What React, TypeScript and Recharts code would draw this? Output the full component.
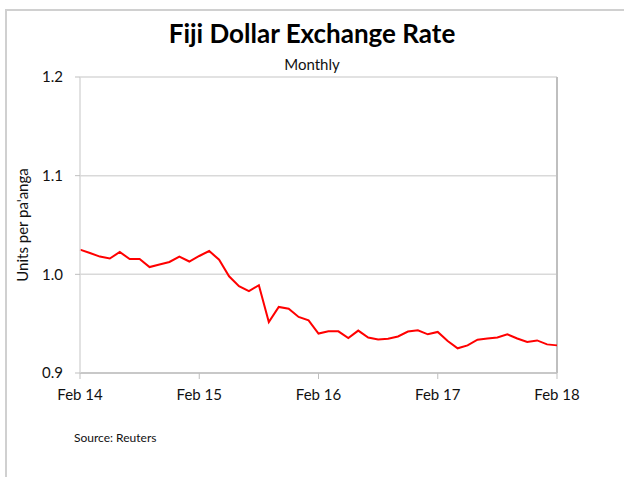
import { LineChart, Line, XAxis, YAxis, CartesianGrid, ReferenceLine } from "recharts";

// monthly, Feb 2014 .. Feb 2018
const rates = [
  1.025, 1.0216, 1.018, 1.016, 1.0226, 1.0155, 1.0155, 1.0074, 1.01, 1.0125,
  1.018, 1.013, 1.0186, 1.0236, 1.0149, 0.998, 0.988, 0.983, 0.989, 0.9517,
  0.967, 0.9652, 0.9568, 0.9534, 0.94, 0.9422, 0.9422, 0.9355, 0.943, 0.936,
  0.934, 0.9348, 0.937, 0.942, 0.9433, 0.9392, 0.9416, 0.9325, 0.925, 0.928,
  0.9338, 0.935, 0.936, 0.9392, 0.935, 0.9314, 0.933, 0.929, 0.928,
];
const yearTicks = [0, 12, 24, 36, 48];
const yearLabels = ["Feb 14", "Feb 15", "Feb 16", "Feb 17", "Feb 18"];
const yTicks = [0.9, 1.0, 1.1, 1.2];

const font = "Lato, 'Open Sans', sans-serif";

export default function App() {
  const data = rates.map((v, i) => ({ m: i, rate: v }));

  return (
    <div
      style={{
        position: "absolute",
        left: 0,
        top: 0,
        width: 624,
        height: 477,
        background: "#fff",
        fontFamily: font,
        overflow: "hidden",
      }}
    >
      <div
        style={{
          position: "absolute",
          top: 17,
          width: 624,
          textAlign: "center",
          fontSize: 26,
          fontWeight: "bold",
          color: "#000",
        }}
      >
        Fiji Dollar Exchange Rate
      </div>
      <div
        style={{
          position: "absolute",
          top: 55,
          width: 624,
          textAlign: "center",
          fontSize: 15,
          color: "#111",
        }}
      >
        Monthly
      </div>
      <div
        style={{
          position: "absolute",
          left: 22,
          top: 225,
          transform: "translate(-50%, -50%) rotate(-90deg)",
          whiteSpace: "nowrap",
          fontSize: 15,
          color: "#111",
        }}
      >
        Units per pa'anga
      </div>
      <div
        style={{
          position: "absolute",
          left: 74,
          top: 430,
          fontSize: 12,
          color: "#111",
        }}
      >
        Source: Reuters
      </div>

      <div style={{ position: "absolute", left: 0, top: 0 }}>
        <LineChart
          width={624}
          height={477}
          data={data}
          margin={{ top: 77, right: 67, left: 20, bottom: 74 }}
        >
          <CartesianGrid vertical={false} stroke="#d9d9d9" strokeWidth={1.5} />
          <XAxis
            dataKey="m"
            type="number"
            domain={[0, 48]}
            ticks={yearTicks}
            tickFormatter={(v) => yearLabels[yearTicks.indexOf(v)]}
            axisLine={{ stroke: "#bfbfbf", strokeWidth: 1.5 }}
            tickLine={{ stroke: "#bfbfbf" }}
            tickSize={6}
            tickMargin={10}
            tick={{ fontSize: 15, fill: "#111", fontFamily: font }}
          />
          <YAxis
            type="number"
            domain={[0.9, 1.2]}
            ticks={yTicks}
            tickFormatter={(v) => v.toFixed(1)}
            width={60}
            axisLine={{ stroke: "#d9d9d9", strokeWidth: 1.5 }}
            tickLine={{ stroke: "#bfbfbf" }}
            tickSize={5}
            tickMargin={12}
            tick={{ fontSize: 15, fill: "#111", fontFamily: font }}
          />
          <ReferenceLine x={48} stroke="#bfbfbf" strokeWidth={2} />
          <Line
            type="linear"
            dataKey="rate"
            stroke="#ff0000"
            strokeWidth={2}
            dot={false}
            isAnimationActive={false}
          />
        </LineChart>
      </div>

      {/* outer frame, top and left edges */}
      <div style={{ position: "absolute", left: 5, top: 9, width: 619, height: 2, background: "#d0d0d0" }} />
      <div style={{ position: "absolute", left: 5, top: 9, width: 2, height: 468, background: "#d0d0d0" }} />
    </div>
  );
}
